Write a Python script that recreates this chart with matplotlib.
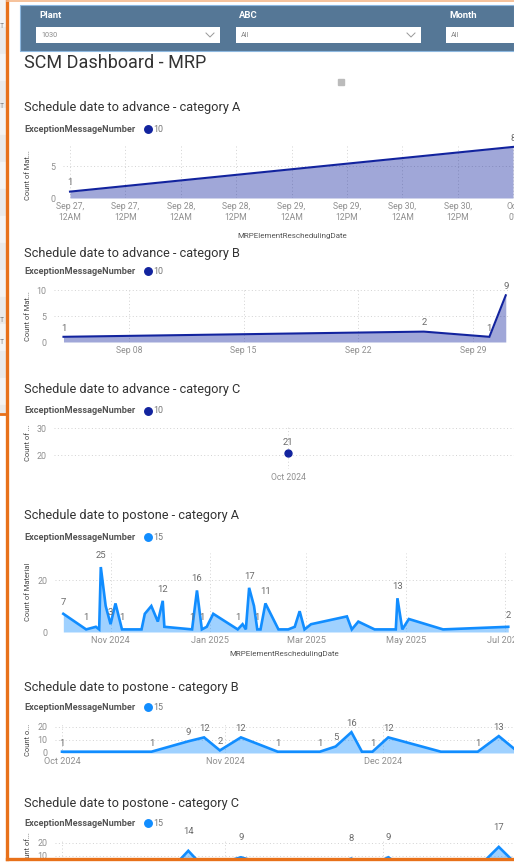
import pandas as pd
import matplotlib
matplotlib.use("Agg")
import matplotlib.pyplot as plt
import matplotlib.dates as mdates
from matplotlib.patches import Rectangle
from matplotlib.lines import Line2D

plt.rcParams['font.family'] = ['Roboto', 'DejaVu Sans']

# ---- data ----
adv_a_dates = ["2024-09-27 00:00", "2024-10-01 00:00"]
adv_a_counts = [1, 8]
adv_a_ticks = pd.date_range("2024-09-27", "2024-10-01", freq="12h")
adv_a_ticklabels = ["Sep 27,\n12AM", "Sep 27,\n12PM", "Sep 28,\n12AM", "Sep 28,\n12PM",
                    "Sep 29,\n12AM", "Sep 29,\n12PM", "Sep 30,\n12AM", "Sep 30,\n12PM", "Oct\n01"]

adv_b_dates = ["2024-09-04", "2024-09-26", "2024-09-30", "2024-10-01"]
adv_b_counts = [1, 2, 1, 9]
adv_b_ticks = ["2024-09-08", "2024-09-15", "2024-09-22", "2024-09-29"]
adv_b_ticklabels = ["Sep 08", "Sep 15", "Sep 22", "Sep 29"]

adv_c_dates = ["2024-10-01"]
adv_c_counts = [21]

post_a_dates = ["2024-10-03", "2024-10-17", "2024-10-23", "2024-10-25", "2024-10-26", "2024-10-29",
                "2024-11-01", "2024-11-04", "2024-11-08", "2024-11-20", "2024-11-22", "2024-11-26",
                "2024-11-30", "2024-12-03", "2024-12-04", "2024-12-21", "2024-12-24", "2024-12-27",
                "2024-12-30", "2025-01-03", "2025-01-18", "2025-01-21", "2025-01-23", "2025-01-25",
                "2025-01-28", "2025-01-30", "2025-02-01", "2025-02-04", "2025-02-12", "2025-02-18",
                "2025-02-22", "2025-02-25", "2025-02-28", "2025-03-04", "2025-03-26", "2025-03-29",
                "2025-04-02", "2025-04-12", "2025-04-25", "2025-04-26", "2025-04-29", "2025-05-03",
                "2025-05-24", "2025-07-03"]
post_a_counts = [7, 1, 2, 1, 25, 10, 3, 11, 1, 1, 7, 10, 4, 12, 2, 1, 16, 1, 2, 7, 1, 3, 1, 17,
                 10, 1, 1, 11, 1, 1, 2, 8, 1, 3, 6, 1, 4, 1, 1, 13, 1, 5, 1, 2]
post_a_labelled = ["2024-10-03", "2024-10-17", "2024-10-26", "2024-11-01", "2024-11-08", "2024-12-03",
                   "2024-12-21", "2024-12-24", "2024-12-27", "2025-01-18", "2025-01-25", "2025-01-30",
                   "2025-02-04", "2025-04-26", "2025-07-03"]
post_a_ticks = ["2024-11-01", "2025-01-01", "2025-03-01", "2025-05-01", "2025-07-01"]
post_a_ticklabels = ["Nov 2024", "Jan 2025", "Mar 2025", "May 2025", "Jul 2025"]

post_b_dates = ["2024-10-01", "2024-10-18", "2024-10-25", "2024-10-28", "2024-10-31", "2024-11-04",
                "2024-11-11", "2024-11-19", "2024-11-22", "2024-11-25", "2024-11-27", "2024-11-29",
                "2024-12-02", "2024-12-12", "2024-12-19", "2024-12-23", "2024-12-26", "2024-12-29"]
post_b_counts = [1, 1, 9, 12, 2, 12, 1, 1, 5, 16, 1, 1, 12, 1, 1, 13, 3, 1]
post_b_labelled = ["2024-10-01", "2024-10-18", "2024-10-25", "2024-10-28", "2024-10-31", "2024-11-04",
                   "2024-11-11", "2024-11-19", "2024-11-22", "2024-11-25", "2024-11-29", "2024-12-02",
                   "2024-12-19", "2024-12-23"]
month_ticks = ["2024-10-01", "2024-11-01", "2024-12-01"]
month_ticklabels = ["Oct 2024", "Nov 2024", "Dec 2024"]

post_c_dates = ["2024-10-01", "2024-10-18", "2024-10-22", "2024-10-25", "2024-10-28", "2024-11-04",
                "2024-11-11", "2024-11-19", "2024-11-25", "2024-11-28", "2024-12-02", "2024-12-05",
                "2024-12-19", "2024-12-23", "2024-12-27"]
post_c_counts = [1, 1, 1, 14, 1, 9, 1, 1, 8, 1, 9, 1, 1, 17, 1]
post_c_labelled = ["2024-10-25", "2024-11-04", "2024-11-25", "2024-12-02", "2024-12-23"]

NAVY = "#12239E"
BLUE = "#118DFF"
W, H = 514, 865

fig = plt.figure(figsize=(W / 100, H / 100), dpi=100)
fig.patch.set_facecolor("white")


def fx(px):
    return px / W


def fy(py):
    return 1 - py / H


def rect(x0, y0, x1, y1, z=1, **kw):
    fig.add_artist(Rectangle((fx(x0), fy(y1)), (x1 - x0) / W, (y1 - y0) / H,
                             transform=fig.transFigure, zorder=z, **kw))


def line(xs, ys, z=6, **kw):
    fig.add_artist(Line2D([fx(x) for x in xs], [fy(y) for y in ys],
                          transform=fig.transFigure, zorder=z, **kw))


def text(x, y, s, **kw):
    fig.text(fx(x), fy(y), s, **kw)


def dnum(d):
    return mdates.date2num(pd.to_datetime(d))


def make_axes(x0, y0, x1, y1, ylim, yticks, xlim, xticks, xticklabels, tick_fs=6.2):
    ax = fig.add_axes([fx(x0), fy(y1), (x1 - x0) / W, (y1 - y0) / H])
    ax.set_facecolor("none")
    for s in ax.spines.values():
        s.set_visible(False)
    ax.set_ylim(*ylim)
    ax.set_xlim(*xlim)
    ax.set_yticks(yticks)
    ax.set_xticks(xticks)
    ax.set_xticklabels(xticklabels)
    ax.tick_params(length=0, labelsize=tick_fs, colors="#8f8f8f", pad=3)
    ax.tick_params(axis="y", labelsize=6.4, pad=5.5)
    ax.grid(True, linestyle=(0, (1, 2.5)), color="#d2d2d2", linewidth=0.7)
    ax.set_axisbelow(True)
    return ax


def area(ax, xs, ys, color, lw):
    ax.fill_between(xs, ys, 0, color=color, alpha=0.4, linewidth=0)
    ax.plot(xs, ys, color=color, linewidth=lw, solid_joinstyle="miter")


def labels(ax, xs, ys, sel, off):
    for x, y in zip(xs, ys):
        if x in sel:
            ax.annotate(str(y), (x, y), xytext=(0, off), textcoords="offset points",
                        ha="center", va="bottom", fontsize=6.8, color="#6b6b6b",
                        annotation_clip=False)


def header(y_title, y_leg, title, color, num):
    text(24, y_title, title, fontsize=9.2, color="#333333", va="center")
    text(24, y_leg, "ExceptionMessageNumber", fontsize=6.6, color="#555555",
         fontweight="bold", va="center")
    line([148], [y_leg], marker="o", markersize=5.4, color=color, linestyle="none")
    text(153, y_leg, num, fontsize=6.4, color="#777777", va="center")


def ylab(x, y, s):
    text(x, y, s, fontsize=5.4, color="#444444", rotation=90, ha="center", va="center")


# ---- left strip and border ----
for i, y0 in enumerate(range(0, 414, 27)):
    rect(0, y0, 7, min(y0 + 27, 414), z=0, color="#eaeaea" if i % 2 else "#f4f4f4")
for yy in [27, 107, 320, 342]:
    text(0, yy, "T", fontsize=5, color="#888888", va="center")

# ---- filter bar ----
rect(20, 5, 514, 51, z=1, facecolor="#557796", edgecolor="#8db8e0", linewidth=0.8)
for x0, x1, lab, val in [(36, 220, "Plant", "1030"), (236, 421, "ABC", "All"), (446, 530, "Month", "All")]:
    rect(x0, 27, x1, 43, z=2, facecolor="white", edgecolor="none")
    text(x0 + 3, 15, lab, fontsize=6.8, color="white", fontweight="bold", va="center")
    text(x0 + 5, 35.5, val, fontsize=5.2, color="#888888", va="center")
    if x1 < 514:
        line([x1 - 14, x1 - 10, x1 - 6], [33, 37, 33], color="#999999", linewidth=0.7)

text(24, 63, "SCM Dashboard - MRP", fontsize=13, color="#333333", va="center")
rect(338, 79, 344, 85, z=2, color="#bbbbbb")

# ---- advance A ----
header(108, 129, "Schedule date to advance - category A", NAVY, "10")
xs = [dnum(d) for d in adv_a_dates]
hpx = (dnum("2024-09-27 12:00") - dnum("2024-09-27")) / 55.4
ax = make_axes(63, 145, 521, 198, (0, 8.3), [0, 5],
               (xs[0] - 7 * hpx, xs[1] + 8 * hpx), [dnum(t) for t in adv_a_ticks], adv_a_ticklabels)
area(ax, xs, adv_a_counts, NAVY, 1.5)
labels(ax, xs, adv_a_counts, xs, 3)
ylab(28, 175, "Count of Mat...")
text(292, 236, "MRPElementReschedulingDate", fontsize=5.8, color="#555555", ha="center", va="center")

# ---- advance B ----
header(253, 271, "Schedule date to advance - category B", NAVY, "10")
xs = [dnum(d) for d in adv_b_dates]
tk = [dnum(d) for d in adv_b_ticks]
dpx = (tk[3] - tk[0]) / (473 - 129)
ax = make_axes(54, 288, 510, 342, (0, 10.4), [0, 5, 10],
               (tk[0] - (129 - 54) * dpx, tk[0] + (510 - 129) * dpx), tk, adv_b_ticklabels)
area(ax, xs, adv_b_counts, NAVY, 1.5)
labels(ax, xs, adv_b_counts, xs, 3)
ylab(28, 316, "Count of Mat...")

# ---- advance C ----
header(390, 411, "Schedule date to advance - category C", NAVY, "10")
xs = [dnum(d) for d in adv_c_dates]
ax = make_axes(54, 427, 522, 469, (15, 30.4), [20, 30],
               (xs[0] - 20, xs[0] + 20), xs, ["Oct 2024"])
ax.plot(xs, adv_c_counts, "o", color=NAVY, markersize=5)
labels(ax, xs, adv_c_counts, xs, 4)
ylab(28, 443, "Count of ...")

# ---- postpone A ----
header(516, 537, "Schedule date to postone - category A", BLUE, "15")
xs = [dnum(d) for d in post_a_dates]
tk = [dnum(d) for d in post_a_ticks]
dpx = (tk[4] - tk[1]) / (505 - 210)
ax = make_axes(55, 553, 522, 632, (0, 30.4), [0, 20],
               (tk[1] - (210 - 55) * dpx, tk[1] + (522 - 210) * dpx), tk, post_a_ticklabels, 6.6)
area(ax, xs, post_a_counts, BLUE, 1.9)
labels(ax, xs, post_a_counts, [dnum(d) for d in post_a_labelled], 5)
ylab(28, 592, "Count of Material")
text(284, 654, "MRPElementReschedulingDate", fontsize=5.8, color="#555555", ha="center", va="center")

# ---- postpone B ----
header(688, 707, "Schedule date to postone - category B", BLUE, "15")
xs = [dnum(d) for d in post_b_dates]
tk = [dnum(d) for d in month_ticks]
dpx = (tk[2] - tk[0]) / (383 - 62)
ax = make_axes(55, 724, 522, 753, (0, 22.3), [0, 10, 20],
               (tk[0] - (62 - 55) * dpx, tk[0] + (522 - 62) * dpx), tk, month_ticklabels, 6.6)
area(ax, xs, post_b_counts, BLUE, 1.9)
labels(ax, xs, post_b_counts, [dnum(d) for d in post_b_labelled], 3)
ylab(28, 740, "Count o...")

# ---- postpone C (cut off by the panel edge) ----
header(804, 823, "Schedule date to postone - category C", BLUE, "15")
xs = [dnum(d) for d in post_c_dates]
ax = make_axes(55, 840, 522, 869, (0, 22.3), [10, 20],
               (tk[0] - (62 - 55) * dpx, tk[0] + (522 - 62) * dpx), tk, ["", "", ""], 6.6)
area(ax, xs, post_c_counts, BLUE, 1.9)
labels(ax, xs, post_c_counts, [dnum(d) for d in post_c_labelled], 11)
ylab(28, 850, "Count of...")

# ---- border on top of everything ----
rect(0, 859, 514, 865, z=8, color="white")
line([7, 7], [0, 859], z=9, color="#E8711A", linewidth=2.4)
line([7, 514], [859, 859], z=9, color="#E8711A", linewidth=2.4)
line([0, 7], [414, 414], z=9, color="#E8711A", linewidth=2.0)
line([7, 514], [0.6, 0.6], z=9, color="#F5B88A", linewidth=1.2)

fig.savefig("out.png", dpi=100)
